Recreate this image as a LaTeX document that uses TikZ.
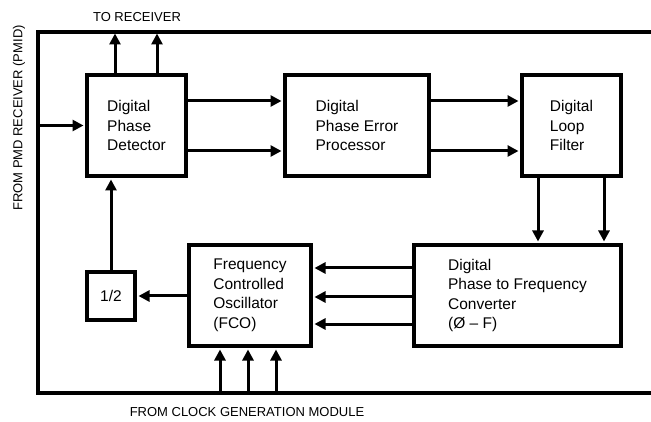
\documentclass[tikz,border=0pt]{standalone}
\usepackage{fontspec}
\setmainfont{Liberation Sans}
\usetikzlibrary{arrows.meta}
\begin{document}
\begin{tikzpicture}[x=1pt,y=-1pt,
  blk/.style={draw, line width=4pt, minimum height=101pt, inner sep=0pt, align=left, font=\fontsize{15.5}{19.5}\selectfont},
  arr/.style={line width=3pt, shorten >=1.5pt, -{Triangle[length=11pt,width=11pt]}},
  frame/.style={line width=4pt, line join=miter},
  lbl/.style={font=\fontsize{13}{15}\selectfont, inner sep=0pt}]
\useasboundingbox (0,0) rectangle (651,422);
\coordinate (ftl) at (38,32);
\coordinate (fbl) at (38,393);
\coordinate (ftr) at (651,32);
\coordinate (fbr) at (651,393);
\draw[frame] (ftr) -- (ftl) -- (fbl) -- (fbr);

\node[blk, minimum width=99pt] (PD) at (136.5,125.5) {Digital\\Phase\\Detector};
\node[blk, minimum width=144pt] (PEP) at (357,125.5) {Digital\\Phase Error\\Processor};
\node[blk, minimum width=99pt] (LF) at (571.5,125.5) {Digital\\Loop\\Filter};
\node[blk, minimum width=207pt] (PFC) at (517.5,295.5) {Digital\\Phase to Frequency\\Converter\\(Ø – F)};
\node[blk, minimum width=122pt] (FCO) at (250,295.5) {Frequency\\Controlled\\Oscillator\\(FCO)};
\node[blk, minimum width=48pt, minimum height=48pt] (HALF) at (111,296) {1/2};

\node[lbl] (toR) at (137,17) {TO RECEIVER};
\node[lbl] (fromC) at (247,412) {FROM CLOCK GENERATION MODULE};
\node[lbl, rotate=90] (fromP) at (19,118) {FROM PMD RECEIVER (PMID)};

% to receiver
\draw[arr] ([xshift=-21.5pt]PD.north) -- ([xshift=-21.5pt]PD.north |- ftl);
\draw[arr] ([xshift=20.5pt]PD.north) -- ([xshift=20.5pt]PD.north |- ftl);
% from PMD
\draw[arr] (ftl |- PD.west) -- (PD.west);
% PD -> PEP
\draw[arr] ([yshift=24.5pt]PD.east) -- ([yshift=24.5pt]PEP.west);
\draw[arr] ([yshift=-25.5pt]PD.east) -- ([yshift=-25.5pt]PEP.west);
% PEP -> LF
\draw[arr] ([yshift=24.5pt]PEP.east) -- ([yshift=24.5pt]LF.west);
\draw[arr] ([yshift=-25.5pt]PEP.east) -- ([yshift=-25.5pt]LF.west);
% LF -> PFC
\draw[arr] ([xshift=-33.5pt]LF.south) -- ([xshift=-33.5pt]LF.south |- PFC.north);
\draw[arr] ([xshift=32.5pt]LF.south) -- ([xshift=32.5pt]LF.south |- PFC.north);
% PFC -> FCO
\draw[arr] ([yshift=27.5pt]PFC.west) -- ([yshift=27.5pt]PFC.west -| FCO.east);
\draw[arr] ([yshift=-1.5pt]PFC.west) -- ([yshift=-1.5pt]PFC.west -| FCO.east);
\draw[arr] ([yshift=-28.5pt]PFC.west) -- ([yshift=-28.5pt]PFC.west -| FCO.east);
% FCO -> 1/2
\draw[arr] (FCO.west |- HALF.east) -- (HALF.east);
% 1/2 -> PD
\draw[arr] (HALF.north) -- (HALF.north |- PD.south);
% clock generation -> FCO
\draw[arr] ([xshift=-30pt]FCO.south |- fbl) -- ([xshift=-30pt]FCO.south);
\draw[arr] ([xshift=-2pt]FCO.south |- fbl) -- ([xshift=-2pt]FCO.south);
\draw[arr] ([xshift=26pt]FCO.south |- fbl) -- ([xshift=26pt]FCO.south);
\end{tikzpicture}
\end{document}
